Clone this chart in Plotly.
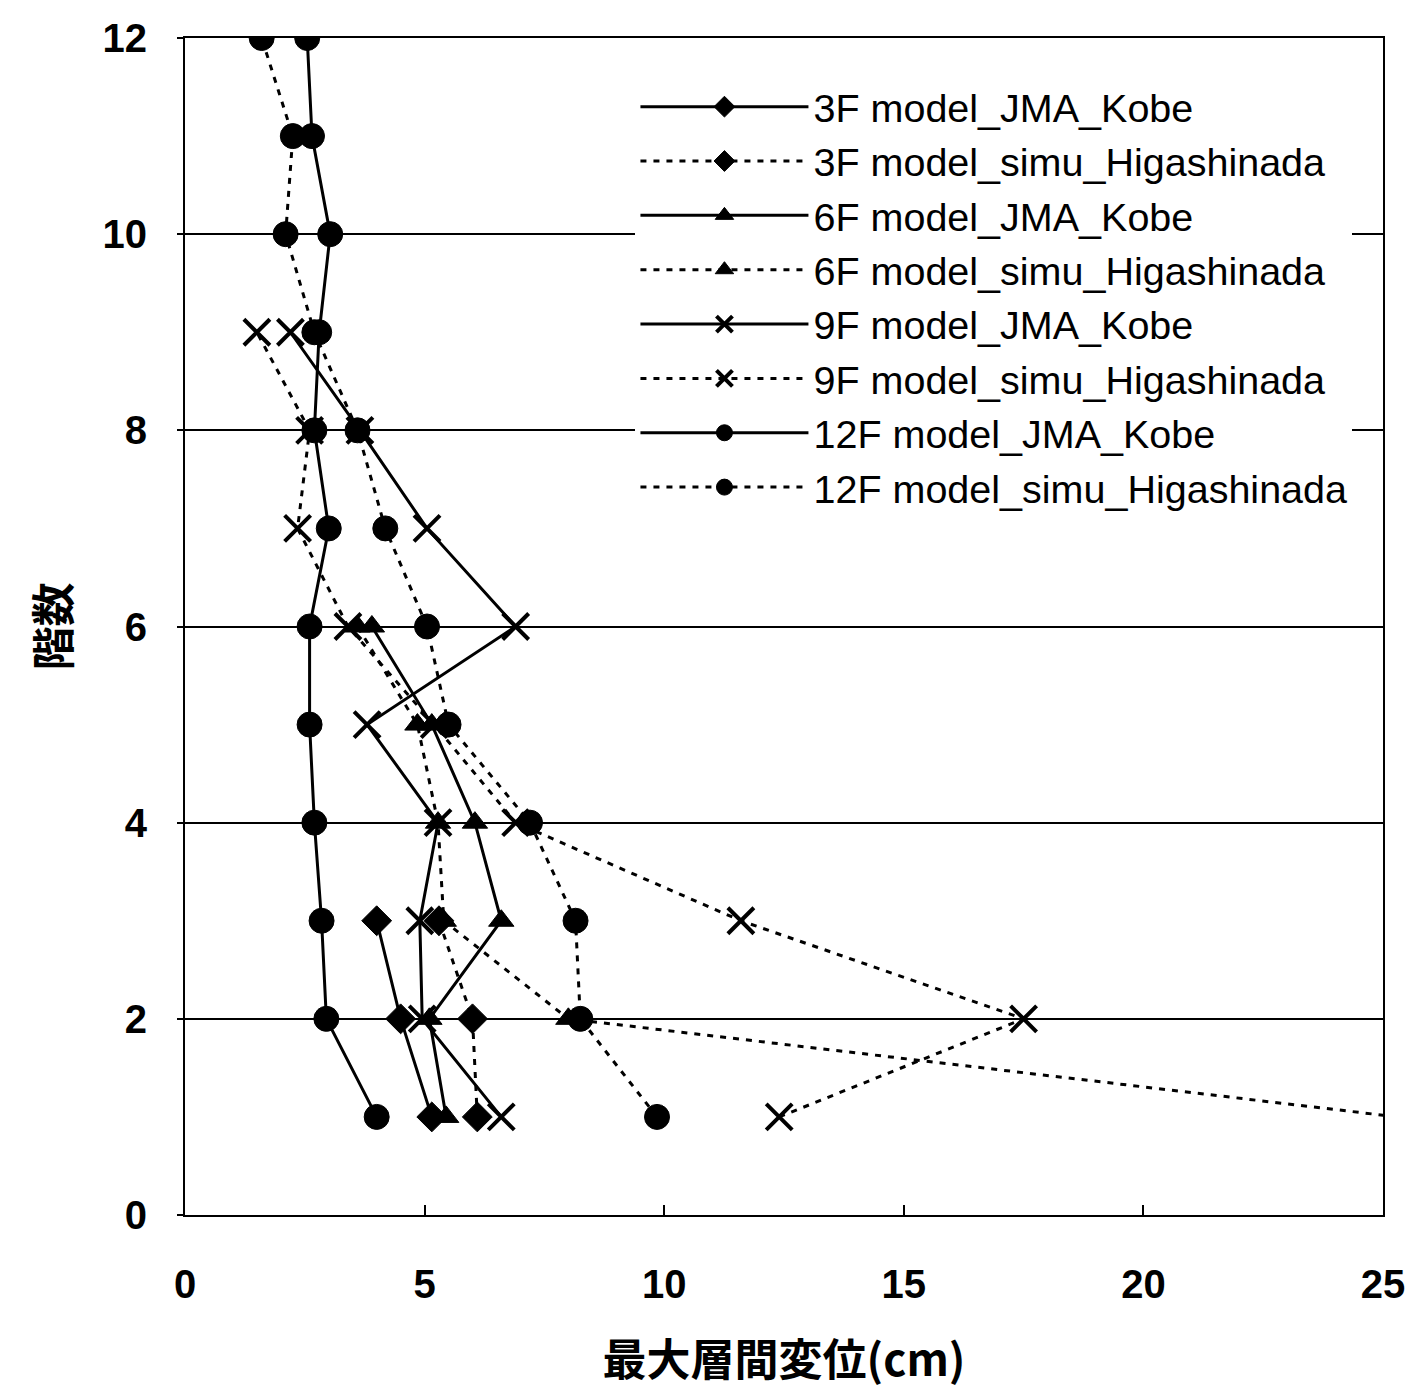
import plotly.graph_objects as go

# Storeys (階数) and peak inter-storey drift (cm) for each building model / ground motion
floors_3 = [1, 2, 3]
floors_6 = [1, 2, 3, 4, 5, 6]
floors_9 = [1, 2, 3, 4, 5, 6, 7, 8, 9]
floors_12 = [1, 2, 3, 4, 5, 6, 7, 8, 9, 10, 11, 12]

drift_3f_jma = [5.15, 4.5, 4.0]
drift_3f_simu = [6.1, 6.0, 5.3]
drift_6f_jma = [5.45, 5.1, 6.6, 6.05, 5.15, 3.9]
drift_6f_simu = [25.3, 8.0, 5.4, 5.28, 4.85, 3.6]
drift_9f_jma = [6.6, 4.95, 4.9, 5.28, 3.8, 6.9, 5.05, 3.65, 2.2]
drift_9f_simu = [12.4, 17.5, 11.6, 6.9, 5.2, 3.4, 2.35, 2.6, 1.5]
drift_12f_jma = [4.0, 2.95, 2.85, 2.7, 2.6, 2.6, 3.0, 2.7, 2.8, 3.03, 2.65, 2.55]
drift_12f_simu = [9.85, 8.25, 8.15, 7.2, 5.5, 5.05, 4.18, 3.6, 2.7, 2.1, 2.25, 1.6]

x_ticks = [0, 5, 10, 15, 20, 25]
y_ticks = [0, 2, 4, 6, 8, 10, 12]

series = [
    ("3F model_JMA_Kobe", drift_3f_jma, floors_3, "diamond", "solid"),
    ("3F model_simu_Higashinada", drift_3f_simu, floors_3, "diamond", "dash"),
    ("6F model_JMA_Kobe", drift_6f_jma, floors_6, "triangle-up", "solid"),
    ("6F model_simu_Higashinada", drift_6f_simu, floors_6, "triangle-up", "dash"),
    ("9F model_JMA_Kobe", drift_9f_jma, floors_9, "x-thin", "solid"),
    ("9F model_simu_Higashinada", drift_9f_simu, floors_9, "x-thin", "dash"),
    ("12F model_JMA_Kobe", drift_12f_jma, floors_12, "circle", "solid"),
    ("12F model_simu_Higashinada", drift_12f_simu, floors_12, "circle", "dash"),
]

marker_size = {"diamond": 23, "triangle-up": 22, "x-thin": 26, "circle": 25}

fig = go.Figure()
for i, (name, xs, ys, sym, style) in enumerate(series):
    dash = "solid" if style == "solid" else "6px,7px"
    fig.add_trace(go.Scatter(
        x=xs, y=ys, name=name, mode="lines+markers",
        legendgroup=f"g{i}",
        line=dict(color="black", width=3, dash=dash),
        marker=dict(symbol=sym, size=marker_size[sym], color="black",
                    line=dict(color="black", width=4 if sym == "x-thin" else 1)),
    ))

fig.update_layout(
    width=1410, height=1391,
    margin=dict(l=185, r=27, t=38, b=176),
    paper_bgcolor="white", plot_bgcolor="white",
    font=dict(family="Liberation Sans", color="black"),
    legend=dict(
        x=0.376, y=0.969, xanchor="left", yanchor="top",
        bgcolor="white", borderwidth=0,
        font=dict(family="Liberation Sans", size=39.5, color="black"),
        itemwidth=168, tracegroupgap=0, traceorder="grouped",
    ),
    xaxis=dict(
        range=[0, 25], tickvals=x_ticks, ticks="inside", ticklen=10,
        tickwidth=2, tickcolor="black", automargin=False,
        showline=True, linecolor="black", linewidth=2, mirror=True,
        showgrid=False, zeroline=False,
        tickfont=dict(family="Liberation Sans", size=40, weight="bold"),
        ticklabelstandoff=33,
        title=dict(text="最大層間変位(cm)", standoff=40,
                   font=dict(family="Noto Sans CJK JP", size=44, weight="bold")),
    ),
    yaxis=dict(
        range=[0, 12], tickvals=y_ticks, ticks="outside", ticklen=6,
        tickwidth=2, tickcolor="black", automargin=False,
        showline=True, linecolor="black", linewidth=2, mirror=True,
        showgrid=True, gridcolor="black", gridwidth=2, zeroline=False,
        tickfont=dict(family="Liberation Sans", size=40, weight="bold"),
        ticklabelstandoff=22,
        title=dict(text="階数", standoff=18,
                   font=dict(family="Noto Sans CJK JP", size=44, weight="bold")),
    ),
)

fig.write_html("out.html")
